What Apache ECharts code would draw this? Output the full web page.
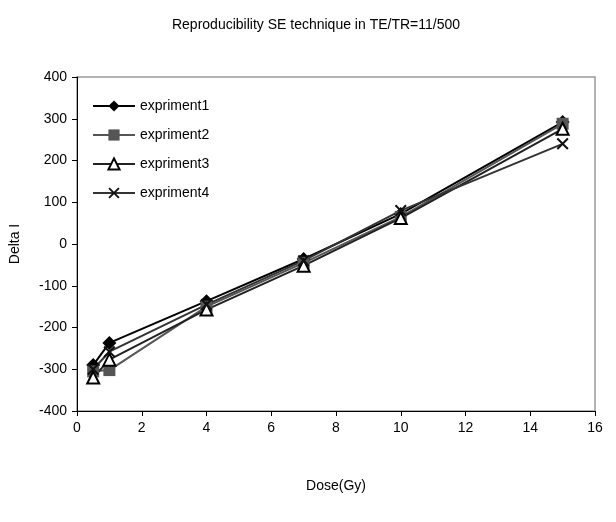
<!DOCTYPE html>
<html>
<head>
<meta charset="utf-8">
<script src="https://cdn.jsdelivr.net/npm/echarts@6/dist/echarts.min.js"></script>
<style>html,body{margin:0;padding:0;background:#fff;}#c{width:616px;height:522px;}</style>
</head>
<body>
<div id="c"></div>
<script>
var doses = [0.5, 1, 4, 7, 10, 15];
var expriment1 = [-290, -237, -137, -36, 72, 292];
var expriment2 = [-305, -302, -150, -45, 65, 288];
var expriment3 = [-320, -277, -157, -52, 62, 276];
var expriment4 = [-300, -258, -145, -40, 80, 240];
var seriesNames = ['expriment1', 'expriment2', 'expriment3', 'expriment4'];
var xTicks = [0, 2, 4, 6, 8, 10, 12, 14, 16];
var yTicks = [-400, -300, -200, -100, 0, 100, 200, 300, 400];

function pairs(ys) { return doses.map(function (d, i) { return [d, ys[i]]; }); }
var crossPath = 'path://M0,1.2L1.2,0L5,3.8L8.8,0L10,1.2L6.2,5L10,8.8L8.8,10L5,6.2L1.2,10L0,8.8L3.8,5Z';
var font = 'Liberation Sans, Arial, sans-serif';

var chart = echarts.init(document.getElementById('c'), null, {renderer: 'canvas'});
chart.setOption({
  animation: false,
  backgroundColor: '#fff',
  title: {
    text: 'Reproducibility SE technique in TE/TR=11/500',
    left: 311, top: 13, textAlign: 'center',
    textStyle: {fontFamily: font, fontSize: 14, fontWeight: 'normal', color: '#000'}
  },
  legend: {
    orient: 'vertical', left: 92, top: 99, padding: 0,
    itemWidth: 42, itemHeight: 14, itemGap: 15,
    textStyle: {fontFamily: font, fontSize: 14, color: '#000'},
    data: seriesNames
  },
  grid: {left: 77, right: 21, top: 77, bottom: 111, outerBoundsMode: 'none', containLabel: false,
         show: true, borderColor: '#999', borderWidth: 1.5, backgroundColor: 'transparent'},
  xAxis: {
    type: 'value', min: 0, max: 16, interval: 2,
    name: 'Dose(Gy)', nameLocation: 'middle', nameGap: 68,
    nameTextStyle: {fontFamily: font, fontSize: 14, color: '#000'},
    axisLine: {show: true, onZero: false, lineStyle: {color: '#000', width: 1}},
    axisTick: {show: true, length: 5, lineStyle: {color: '#000'}},
    axisLabel: {fontFamily: font, fontSize: 14, color: '#000', margin: 10},
    splitLine: {show: false}
  },
  yAxis: {
    type: 'value', min: -400, max: 400, interval: 100,
    name: 'Delta I', nameLocation: 'middle', nameGap: 55,
    nameTextStyle: {fontFamily: font, fontSize: 14, color: '#000'},
    axisLine: {show: true, onZero: false, lineStyle: {color: '#000', width: 1}},
    axisTick: {show: true, length: 5, lineStyle: {color: '#000'}},
    axisLabel: {fontFamily: font, fontSize: 14, color: '#000', margin: 10},
    splitLine: {show: false}
  },
  series: [
    {name: seriesNames[0], type: 'line', data: pairs(expriment1), symbol: 'diamond', symbolSize: 14,
     lineStyle: {color: '#000', width: 2}, itemStyle: {color: '#000'}},
    {name: seriesNames[1], type: 'line', data: pairs(expriment2), symbol: 'rect', symbolSize: 12,
     lineStyle: {color: '#555', width: 2}, itemStyle: {color: '#555'}},
    {name: seriesNames[2], type: 'line', data: pairs(expriment3), symbol: 'triangle', symbolSize: 12,
     lineStyle: {color: '#222', width: 2}, itemStyle: {color: '#fff', borderColor: '#000', borderWidth: 2}},
    {name: seriesNames[3], type: 'line', data: pairs(expriment4), symbol: crossPath, symbolSize: 12,
     lineStyle: {color: '#333', width: 2}, itemStyle: {color: '#111'}}
  ]
});
</script>
</body>
</html>
